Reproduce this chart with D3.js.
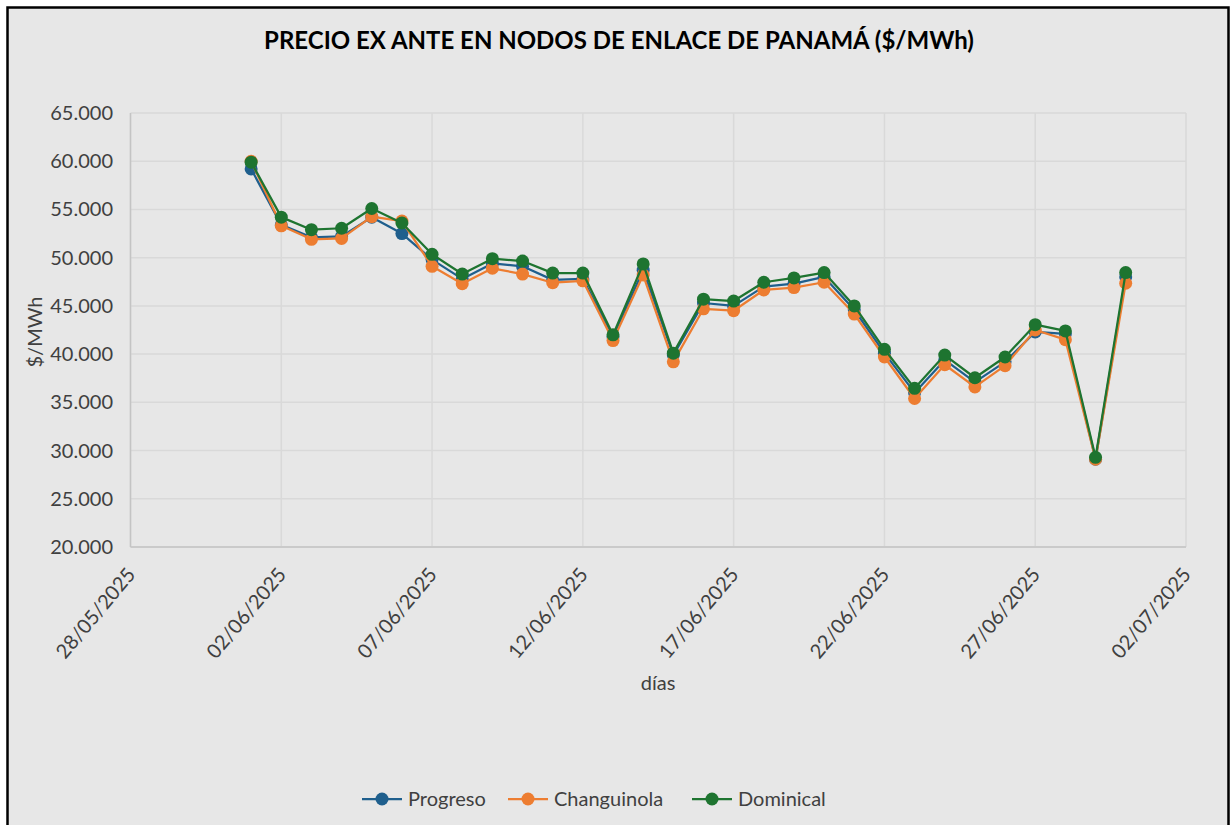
<!DOCTYPE html>
<html>
<head>
<meta charset="utf-8">
<script src="https://cdn.jsdelivr.net/npm/d3@7"></script>
<style>
  html, body { margin: 0; padding: 0; background: #fff; }
  svg { display: block; }
  text { font-family: Lato, "Open Sans", sans-serif; fill: #404040; }
</style>
</head>
<body>
<svg id="svg1" width="1231" height="825"></svg>
<script>
// fechas (01/06/2025 .. 30/06/2025)
var dias = ["01/06/2025","02/06/2025","03/06/2025","04/06/2025","05/06/2025","06/06/2025","07/06/2025","08/06/2025","09/06/2025","10/06/2025",
            "11/06/2025","12/06/2025","13/06/2025","14/06/2025","15/06/2025","16/06/2025","17/06/2025","18/06/2025","19/06/2025","20/06/2025",
            "21/06/2025","22/06/2025","23/06/2025","24/06/2025","25/06/2025","26/06/2025","27/06/2025","28/06/2025","29/06/2025","30/06/2025"];

var progreso    = [59.2, 53.4, 52.1, 52.2, 54.2, 52.5, 49.8, 47.8, 49.4, 49.1,
                   47.7, 47.8, 41.8, 48.7, 39.9, 45.3, 45.0, 47.0, 47.3, 48.0,
                   44.6, 40.1, 36.0, 39.4, 37.1, 39.2, 42.3, 42.1, 29.1, 48.0];
var changuinola = [60.0, 53.3, 51.9, 52.0, 54.25, 53.8, 49.1, 47.3, 48.9, 48.3,
                   47.4, 47.6, 41.4, 48.2, 39.2, 44.7, 44.5, 46.65, 46.9, 47.45,
                   44.15, 39.7, 35.4, 38.9, 36.6, 38.8, 42.5, 41.5, 29.1, 47.35];
var dominical   = [59.9, 54.2, 52.9, 53.05, 55.1, 53.6, 50.35, 48.3, 49.9, 49.65,
                   48.4, 48.4, 42.0, 49.35, 40.1, 45.7, 45.5, 47.45, 47.9, 48.45,
                   45.0, 40.5, 36.45, 39.9, 37.55, 39.7, 43.05, 42.4, 29.3, 48.45];

var series_names = ["Progreso", "Changuinola", "Dominical"];
var tick_x = ["28/05/2025","02/06/2025","07/06/2025","12/06/2025","17/06/2025","22/06/2025","27/06/2025","02/07/2025"];
var tick_y = [20, 25, 30, 35, 40, 45, 50, 55, 60, 65];

var colors = ["#1f5f8d", "#ed7d31", "#1e7430"];
var parse = d3.timeParse("%d/%m/%Y");
var svg = d3.select("#svg1");

// fondo y marco
svg.append("rect").attr("x", 7.5).attr("y", 7.5).attr("width", 1221).attr("height", 830)
   .attr("fill", "#e7e7e7").attr("stroke", "#000").attr("stroke-width", 2.5);

var plot_left = 130.5, plot_right = 1186, plot_top = 113, plot_bottom = 547;

var x = d3.scaleTime().domain([parse(tick_x[0]), parse(tick_x[tick_x.length - 1])]).range([plot_left, plot_right]);
var y = d3.scaleLinear().domain([20, 65]).range([plot_bottom, plot_top]);

// rejilla
svg.append("g").selectAll("line").data(tick_y).join("line")
   .attr("x1", plot_left).attr("x2", plot_right)
   .attr("y1", function(d){ return y(d); }).attr("y2", function(d){ return y(d); })
   .attr("stroke", "#d9d9d9").attr("stroke-width", 1.5);
svg.append("g").selectAll("line").data(tick_x).join("line")
   .attr("x1", function(d){ return x(parse(d)); }).attr("x2", function(d){ return x(parse(d)); })
   .attr("y1", plot_top).attr("y2", plot_bottom)
   .attr("stroke", "#d9d9d9").attr("stroke-width", 1.5);

// ejes
svg.append("line").attr("x1", plot_left).attr("x2", plot_left).attr("y1", plot_top).attr("y2", plot_bottom)
   .attr("stroke", "#c4c4c4").attr("stroke-width", 1.5);
svg.append("line").attr("x1", plot_left).attr("x2", plot_right).attr("y1", plot_bottom).attr("y2", plot_bottom)
   .attr("stroke", "#c4c4c4").attr("stroke-width", 1.5);

var fmt = d3.format(".3f");
svg.append("g").selectAll("text").data(tick_y).join("text")
   .attr("x", 113).attr("y", function(d){ return y(d) + 7; })
   .attr("text-anchor", "end").attr("font-size", 20)
   .text(function(d){ return fmt(d); });

svg.append("g").selectAll("text").data(tick_x).join("text")
   .attr("text-anchor", "end").attr("font-size", 20)
   .attr("transform", function(d){ return "translate(" + (x(parse(d)) + 6) + "," + 575 + ") rotate(-50)"; })
   .text(function(d){ return d; });

// títulos
svg.append("text").attr("x", 619).attr("y", 49).attr("text-anchor", "middle")
   .attr("font-size", 24).attr("font-weight", "bold").style("fill", "#000")
   .text("PRECIO EX ANTE EN NODOS DE ENLACE DE PANAMÁ ($/MWh)");
svg.append("text").attr("x", 658).attr("y", 690).attr("text-anchor", "middle")
   .attr("font-size", 20).text("días");
svg.append("text").attr("transform", "translate(42,332) rotate(-90)").attr("text-anchor", "middle")
   .attr("font-size", 20).text("$/MWh");

// series
var all = [progreso, changuinola, dominical];
var line = d3.line()
   .x(function(d, i){ return x(parse(dias[i])); })
   .y(function(d){ return y(d); });

all.forEach(function(vals, k){
    svg.append("path").datum(vals).attr("d", line)
       .attr("fill", "none").attr("stroke", colors[k]).attr("stroke-width", 2.25)
       .attr("stroke-linejoin", "round");
    svg.append("g").selectAll("circle").data(vals).join("circle")
       .attr("cx", function(d, i){ return x(parse(dias[i])); })
       .attr("cy", function(d){ return y(d); })
       .attr("r", 6.5).attr("fill", colors[k]);
});

// leyenda
var legend_x = [362, 508, 692];
series_names.forEach(function(name, k){
    var g = svg.append("g").attr("transform", "translate(" + legend_x[k] + ",799)");
    g.append("line").attr("x1", 0).attr("x2", 40).attr("stroke", colors[k]).attr("stroke-width", 2.25);
    g.append("circle").attr("cx", 20).attr("r", 6.5).attr("fill", colors[k]);
    g.append("text").attr("x", 46).attr("y", 7).attr("font-size", 20).text(name);
});
</script>
</body>
</html>
